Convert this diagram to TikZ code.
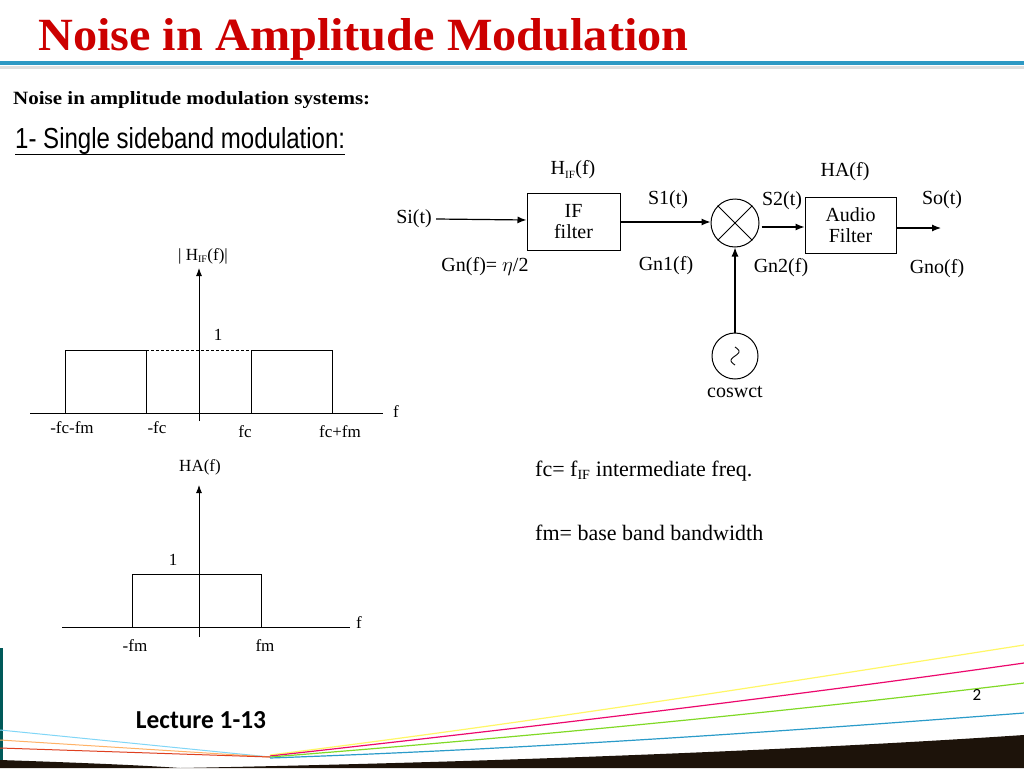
\documentclass[tikz,border=0pt]{standalone}
\usepackage{fontspec}
\setmainfont{Liberation Serif}
\newfontfamily\carl{Carlito}
\usetikzlibrary{arrows.meta}
\begin{document}
\begin{tikzpicture}[x=1pt,y=-1pt,
  lbl/.style={font=\fontsize{20}{22}\selectfont,inner sep=0pt},
  sm/.style={font=\fontsize{17}{19}\selectfont,inner sep=0pt},
  blk/.style={draw,line width=1pt,minimum width=93pt,minimum height=57pt,align=center,font=\fontsize{20}{21}\selectfont,inner sep=0pt},
  sig/.style={line width=1.2pt,-{Latex[length=9pt,width=7pt]}},
  ax/.style={line width=0.9pt},
  axa/.style={line width=0.9pt,-{Latex[length=8pt,width=6pt]}}]
\useasboundingbox (0,0) rectangle (1024,768);
\fill[white] (0,0) rectangle (1024,768);
% header
\node[anchor=base west,inner sep=0pt,text=red!80!black] (title) at (38,50) {\resizebox{650pt}{32pt}{\bfseries Noise in Amplitude Modulation}};
\fill[cyan!55!teal] (0,61) rectangle (1024,65);
\fill[gray!25] (0,66) rectangle (1024,69);
\node[anchor=base west,inner sep=0pt] (sub) at (13,104) {\resizebox{357pt}{13pt}{\bfseries Noise in amplitude modulation systems:}};
\node[anchor=base west,inner sep=0pt] (ssb) at (15,148) {\resizebox{330pt}{21pt}{\fontspec{Liberation Sans}1- Single sideband modulation:}};
\draw[line width=0.8pt] (15,154) -- (345,154);
% block diagram
\node[blk] (if) at (573.5,221.5) {IF\\filter};
\node[blk,minimum width=91pt,minimum height=56pt] (af) at (850.5,225) {Audio\\Filter};
\node[draw,circle,line width=1pt,minimum size=48pt,inner sep=0pt] (mx) at (735,223) {};
\draw[line width=1pt] (mx.45) -- (mx.225) (mx.135) -- (mx.315);
\node[draw,circle,line width=1pt,minimum size=46pt,inner sep=0pt] (osc) at (735,356) {};
\draw[line width=0.9pt,domain=-180:180,samples=40,smooth] plot ({735+4*sin(\x)},{356-\x/20});
\node[lbl,anchor=east] (si) at (432,219) {Si(t)};
\coordinate (out) at (941,228);
\draw[sig] (si.east)++(4,0) -- (if.west|-0,220);
\draw[sig] (if.east|-0,222) -- (mx.west|-0,222);
\draw[sig] (mx.east|-0,227)++(2,0) -- (af.west|-0,227);
\draw[sig] (af.east|-0,228) -- (out);
\draw[sig] (osc.north) -- (mx.south);
\node[lbl] (hif) at (573,170) {H\textsubscript{\fontsize{11}{12}\selectfont IF}(f)};
\node[lbl] (ha) at (845,172) {HA(f)};
\node[lbl] (s1) at (668,200) {S1(t)};
\node[lbl] (s2) at (782,201) {S2(t)};
\node[lbl] (so) at (942,200) {So(t)};
\node[lbl] (gn) at (485,267) {Gn(f)= $\eta$/2};
\node[lbl] (gn1) at (666,266) {Gn1(f)};
\node[lbl] (gn2) at (781,268) {Gn2(f)};
\node[lbl] (gno) at (937,269) {Gno(f)};
\node[lbl] (cos) at (735,392) {coswct};
% graph 1
\draw[ax] (30,413) -- (383,413);
\draw[axa] (199,421) -- (199,268);
\draw[ax] (65,413) |- (146,350) -- (146,413);
\draw[ax] (251,413) |- (332,350) -- (332,413);
\draw[ax,dashed,dash pattern=on 3pt off 2pt] (146,350) -- (251,350);
\node[sm] (f1) at (396,412) {f};
\node[sm] (h1) at (203,256) {| H\textsubscript{\fontsize{10}{11}\selectfont IF}(f)|};
\node[sm] (o1) at (218,335) {1};
\node[sm] (a1) at (72,428) {-fc-fm};
\node[sm] (a2) at (157,428) {-fc};
\node[sm] (a3) at (245,432) {fc};
\node[sm] (a4) at (340,432) {fc+fm};
% graph 2
\draw[ax] (62,627) -- (350,627);
\draw[axa] (199,637) -- (199,485);
\draw[ax] (132,627) |- (261,574) -- (261,627);
\node[sm] (f2) at (359,623) {f};
\node[sm] (h2) at (200,467) {HA(f)};
\node[sm] (o2) at (173,560) {1};
\node[sm] (b1) at (135,646) {-fm};
\node[sm] (b2) at (265,646) {fm};
% notes
\node[anchor=base west,inner sep=0pt,font=\fontsize{22}{24}\selectfont] (n1) at (535,476) {fc= f\textsubscript{\fontsize{14}{15}\selectfont IF} intermediate freq.};
\node[anchor=base west,inner sep=0pt,font=\fontsize{22}{24}\selectfont] (n2) at (535,540) {fm= base band bandwidth};
% footer
\fill[teal!70!black] (0,648) rectangle (3,768);
\draw[yellow!60,line width=1.2pt] (270,755) .. controls (550,720) and (800,680) .. (1024,645);
\draw[magenta!70!red,line width=1.2pt] (270,756) .. controls (550,725) and (800,695) .. (1024,663);
\draw[green!50!yellow!70!gray,line width=1.2pt] (270,757) .. controls (550,735) and (800,710) .. (1024,683);
\draw[cyan!60!teal,line width=1.2pt] (270,758) .. controls (550,748) and (800,730) .. (1024,713);
\fill[black!85!brown] (180,768) .. controls (500,762) and (800,750) .. (1024,735) -- (1024,768) -- cycle;
\fill[black!85!brown] (0,768) -- (0,760) .. controls (60,762) and (140,765) .. (180,768) -- cycle;
\draw[cyan!50,line width=1pt] (0,730) -- (270,757);
\draw[orange!60,line width=1pt] (0,740) -- (270,757);
\draw[red!50!brown,line width=1pt] (0,748) -- (270,757);
\node[anchor=base,inner sep=0pt] (lec) at (201,728) {\resizebox{130pt}{17pt}{\bfseries\carl Lecture 1-13}};
\node[inner sep=0pt,font=\carl\fontsize{17}{19}\selectfont] (pg) at (977,695) {2};
\end{tikzpicture}
\end{document}
